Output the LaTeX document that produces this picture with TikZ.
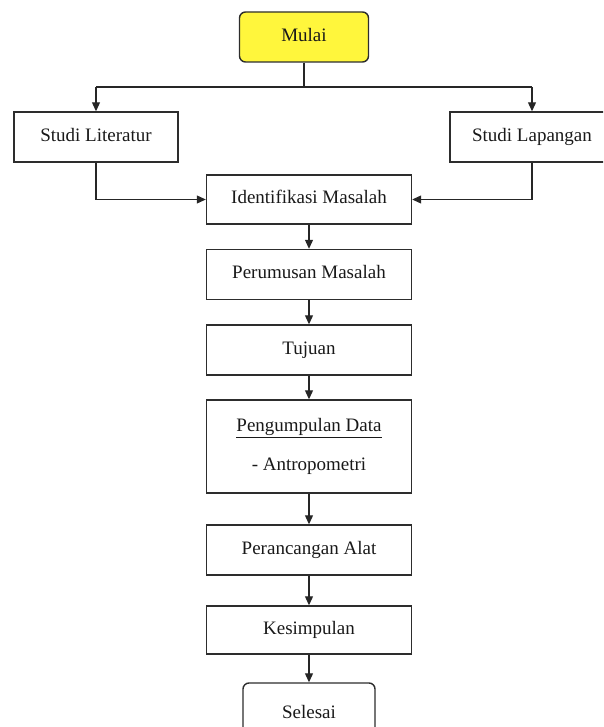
\documentclass[tikz,border=0pt]{standalone}
\usepackage{fontspec}
\setmainfont{Liberation Serif}
\usetikzlibrary{arrows.meta}
\definecolor{mulaiyellow}{RGB}{255,246,60}
\definecolor{edgegray}{RGB}{45,45,45}
\begin{document}
\begin{tikzpicture}[x=1pt,y=-1pt,
  basebox/.style={draw=edgegray,line width=1.4pt,minimum height=50pt,inner sep=0pt,
    font=\fontsize{19}{23}\selectfont,text=black!90},
  box/.style={basebox,text height=12.5pt,text depth=4pt},
  colbox/.style={box,minimum width=205pt},
  ln/.style={draw=black!85,line width=1.1pt},
  conn/.style={ln,-{Triangle[length=9pt,width=8pt]}}]
\useasboundingbox (0,0) rectangle (603,727);
\clip (0,0) rectangle (603,727);
\node[box,rounded corners=6pt,fill=mulaiyellow,minimum width=129pt] (mulai) at (304,37) {Mulai};
\node[box,minimum width=164pt] (lit) at (96,137) {Studi Literatur};
\node[box,minimum width=164pt] (lap) at (532,137) {Studi Lapangan};
\node[colbox,minimum height=49pt] (idm) at (309,199.5) {Identifikasi Masalah};
\node[colbox] (per) at (309,274.5) {Perumusan Masalah};
\node[colbox] (tuj) at (309,350) {Tujuan};
\node[basebox,minimum width=205pt,minimum height=93pt,align=center,font=\fontsize{19}{39}\selectfont] (peng) at (309,446.5)
  {\underline{Pengumpulan Data}\\- Antropometri};
\node[colbox] (pra) at (309,550) {Perancangan Alat};
\node[colbox,minimum height=48pt] (kes) at (309,630) {Kesimpulan};
\node[box,rounded corners=6pt,minimum width=132pt,minimum height=62pt] (sel) at (309,714) {Selesai};
\coordinate (split) at (304,87);
\coordinate (lt) at (96,87);
\coordinate (rt) at (532,87);
\draw[ln] (mulai) -- (split);
\draw[ln] (lt) -- (rt);
\draw[conn] (lt) -- (lit);
\draw[conn] (rt) -- (lap);
\draw[conn] (lit) |- (idm);
\draw[conn] (lap) |- (idm);
\draw[conn] (idm) -- (per);
\draw[conn] (per) -- (tuj);
\draw[conn] (tuj) -- (peng);
\draw[conn] (peng) -- (pra);
\draw[conn] (pra) -- (kes);
\draw[conn] (kes) -- (sel);
\end{tikzpicture}
\end{document}
